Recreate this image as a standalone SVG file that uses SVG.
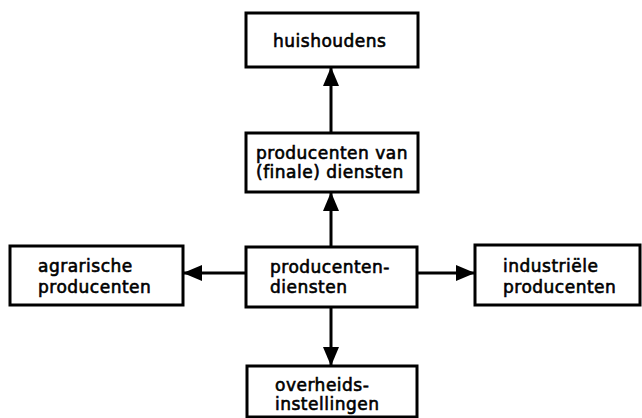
<svg xmlns="http://www.w3.org/2000/svg" width="642" height="418" viewBox="0 0 642 418">
<style>
.box{fill:#fff;stroke:#000;stroke-width:3}
.t{font-family:"DejaVu Sans","Liberation Sans",sans-serif;font-size:17px;fill:#000;stroke:#000;stroke-width:0.6;letter-spacing:0.5px}
.c{stroke:#000;stroke-width:3;fill:none}
</style>
<defs>
<marker id="ah" viewBox="0 0 19 16" refX="19" refY="8" markerWidth="19" markerHeight="16" markerUnits="userSpaceOnUse" orient="auto">
<path d="M0,0 L19,8 L0,16 Z" fill="#000"/>
</marker>
</defs>
<rect width="642" height="418" fill="#fff"/>
<g id="connectors">
<line class="c" x1="331" y1="133" x2="331" y2="67" marker-end="url(#ah)"/>
<line class="c" x1="331" y1="247" x2="331" y2="192" marker-end="url(#ah)"/>
<line class="c" x1="246" y1="273" x2="183" y2="273" marker-end="url(#ah)"/>
<line class="c" x1="417" y1="273" x2="475" y2="273" marker-end="url(#ah)"/>
<line class="c" x1="331" y1="307" x2="331" y2="366" marker-end="url(#ah)"/>
</g>
<g id="huishoudens">
<rect class="box" x="246" y="13" width="172" height="54"/>
<text class="t" x="273" y="47">huishoudens</text>
</g>
<g id="producenten-van-finale-diensten">
<rect class="box" x="246" y="133" width="172" height="59"/>
<text class="t" x="256" y="159">producenten van</text>
<text class="t" x="256" y="178">(finale) diensten</text>
</g>
<g id="agrarische-producenten">
<rect class="box" x="10" y="246" width="173" height="59"/>
<text class="t" x="38" y="272">agrarische</text>
<text class="t" x="38" y="293">producenten</text>
</g>
<g id="producentendiensten">
<rect class="box" x="246" y="247" width="171" height="60"/>
<text class="t" x="270" y="273">producenten-</text>
<text class="t" x="270" y="293">diensten</text>
</g>
<g id="industriele-producenten">
<rect class="box" x="475" y="245" width="165" height="60"/>
<text class="t" x="503" y="272">industriële</text>
<text class="t" x="503" y="293">producenten</text>
</g>
<g id="overheidsinstellingen">
<rect class="box" x="247" y="366" width="170" height="51"/>
<text class="t" x="275" y="391">overheids-</text>
<text class="t" x="275" y="410">instellingen</text>
</g>
</svg>
